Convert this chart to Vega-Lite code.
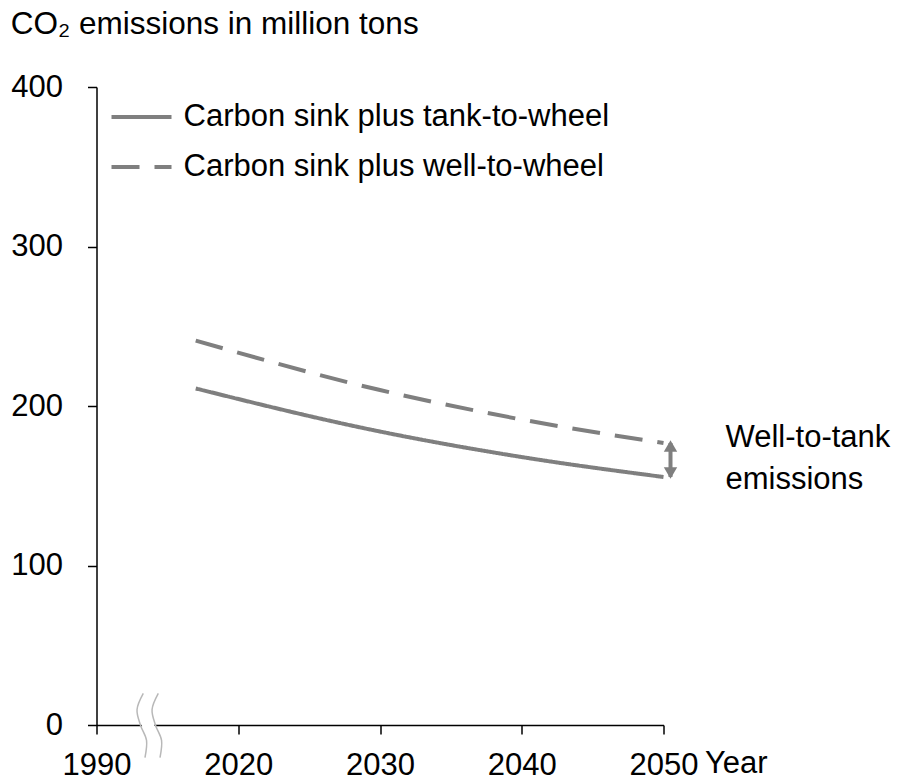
{
  "$schema": "https://vega.github.io/schema/vega-lite/v6.json",
  "width": 567,
  "height": 638,
  "autosize": {"type": "none"},
  "padding": {"left": 96.5, "top": 87, "right": 235.5, "bottom": 55},
  "background": "white",
  "config": {
    "view": {"stroke": null},
    "font": "Liberation Sans",
    "axis": {
      "grid": false,
      "domainColor": "black",
      "tickColor": "black",
      "labelColor": "black",
      "titleColor": "black",
      "domainWidth": 1.5,
      "tickWidth": 1.5,
      "tickSize": 9,
      "labelFontSize": 31,
      "labelFont": "Liberation Sans",
      "titleFont": "Liberation Sans"
    }
  },
  "title": {
    "text": "CO₂ emissions in million tons",
    "anchor": "start",
    "frame": "bounds",
    "fontSize": 31.5,
    "fontWeight": "normal",
    "color": "black",
    "font": "Liberation Sans",
    "offset": 31
  },
  "datasets": {
    "emissions": [
      {"series": "Carbon sink plus tank-to-wheel", "year": 2017, "value": 211},
      {"series": "Carbon sink plus tank-to-wheel", "year": 2030, "value": 184},
      {"series": "Carbon sink plus tank-to-wheel", "year": 2040, "value": 168},
      {"series": "Carbon sink plus tank-to-wheel", "year": 2050, "value": 155.5},
      {"series": "Carbon sink plus well-to-wheel", "year": 2017, "value": 241},
      {"series": "Carbon sink plus well-to-wheel", "year": 2030, "value": 210},
      {"series": "Carbon sink plus well-to-wheel", "year": 2040, "value": 191.5},
      {"series": "Carbon sink plus well-to-wheel", "year": 2050, "value": 176.8}
    ],
    "gap": [
      {"year": 2050, "value": 155.5, "value2": 176.8, "label": "Well-to-tank\nemissions"}
    ],
    "axisbreak": [
      {"curve": "a", "i": 0, "year": 2013.30, "value": 19.8},
      {"curve": "a", "i": 1, "year": 2012.86, "value": 9.7},
      {"curve": "a", "i": 2, "year": 2013.11, "value": -0.3},
      {"curve": "a", "i": 3, "year": 2013.53, "value": -9.7},
      {"curve": "a", "i": 4, "year": 2013.42, "value": -20.4},
      {"curve": "b", "i": 0, "year": 2014.36, "value": 19.8},
      {"curve": "b", "i": 1, "year": 2013.92, "value": 9.7},
      {"curve": "b", "i": 2, "year": 2014.17, "value": -0.3},
      {"curve": "b", "i": 3, "year": 2014.59, "value": -9.7},
      {"curve": "b", "i": 4, "year": 2014.48, "value": -20.4}
    ],
    "breakfill": [
      {"i": 0, "year": 2013.83, "value": 19.8},
      {"i": 1, "year": 2013.39, "value": 9.7},
      {"i": 2, "year": 2013.64, "value": -0.3},
      {"i": 3, "year": 2014.06, "value": -9.7},
      {"i": 4, "year": 2013.95, "value": -20.4}
    ]
  },
  "encoding": {
    "x": {
      "field": "year",
      "type": "quantitative",
      "scale": {"domain": [2010, 2050], "nice": false, "zero": false},
      "axis": {
        "values": [2010, 2020, 2030, 2040, 2050],
        "format": "d",
        "labelExpr": "datum.value == 2010 ? '1990' : datum.label",
        "labelPadding": 16,
        "labelFlush": false,
        "labelOverlap": false,
        "title": "Year",
        "titleX": 608,
        "titleY": 47,
        "titleAlign": "left",
        "titleBaseline": "alphabetic",
        "titleFontSize": 31,
        "titleFontWeight": "normal"
      }
    },
    "y": {
      "field": "value",
      "type": "quantitative",
      "scale": {"domain": [0, 400], "nice": false},
      "axis": {
        "values": [0, 100, 200, 300, 400],
        "title": null,
        "labelPadding": 25
      }
    }
  },
  "layer": [
    {
      "data": {"name": "breakfill"},
      "mark": {"type": "line", "interpolate": "cardinal", "color": "white", "strokeWidth": 12},
      "encoding": {"order": {"field": "i"}}
    },
    {
      "data": {"name": "axisbreak"},
      "mark": {"type": "line", "interpolate": "cardinal", "color": "#b8b8b8", "strokeWidth": 1.5},
      "encoding": {
        "detail": {"field": "curve"},
        "order": {"field": "i"}
      }
    },
    {
      "data": {"name": "emissions"},
      "mark": {"type": "line", "interpolate": "monotone", "color": "#7f7f7f", "strokeWidth": 4, "strokeCap": "butt"},
      "encoding": {
        "strokeDash": {
          "field": "series",
          "type": "nominal",
          "scale": {
            "domain": ["Carbon sink plus tank-to-wheel", "Carbon sink plus well-to-wheel"],
            "range": [[1, 0], [28, 15]]
          },
          "legend": {
            "orient": "none",
            "legendX": 13,
            "legendY": -2,
            "title": null,
            "labelFontSize": 31,
            "labelFont": "Liberation Sans",
            "labelColor": "black",
            "labelLimit": 700,
            "symbolType": "stroke",
            "symbolSize": 3600,
            "symbolStrokeWidth": 4,
            "symbolStrokeColor": "#7f7f7f",
            "labelOffset": 10,
            "rowPadding": 3
          }
        }
      }
    },
    {
      "data": {"name": "gap"},
      "mark": {"type": "rule", "color": "#7f7f7f", "strokeWidth": 4, "xOffset": 7},
      "encoding": {"y2": {"field": "value2"}}
    },
    {
      "data": {"name": "gap"},
      "mark": {"type": "point", "shape": "triangle-up", "filled": true, "color": "#7f7f7f", "opacity": 1, "size": 180, "xOffset": 7, "yOffset": 3},
      "encoding": {"y": {"field": "value2", "type": "quantitative"}}
    },
    {
      "data": {"name": "gap"},
      "mark": {"type": "point", "shape": "triangle-down", "filled": true, "color": "#7f7f7f", "opacity": 1, "size": 180, "xOffset": 7, "yOffset": -4},
      "encoding": {}
    },
    {
      "data": {"name": "gap"},
      "mark": {"type": "text", "align": "left", "baseline": "alphabetic", "dx": 62, "dy": 3.5, "fontSize": 31, "lineHeight": 42, "lineBreak": "\n", "color": "black", "font": "Liberation Sans"},
      "encoding": {
        "y": {"field": "value2", "type": "quantitative"},
        "text": {"field": "label"}
      }
    }
  ]
}
